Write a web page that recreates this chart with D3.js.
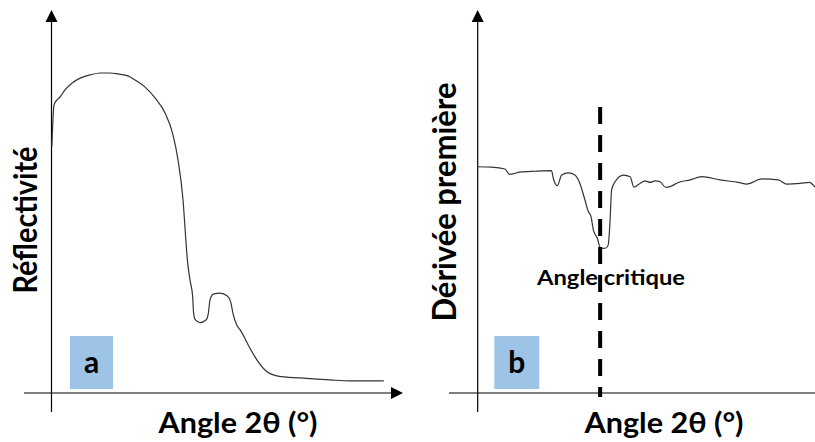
<!DOCTYPE html>
<html><head><meta charset="utf-8">
<script src="https://cdn.jsdelivr.net/npm/d3@7"></script>
<style>
html,body{margin:0;padding:0;background:#fff;}
svg{display:block;}
text{font-family:Lato,"Open Sans",sans-serif;font-weight:700;fill:#000;}
</style></head><body>
<svg id="c" width="815" height="442"></svg>
<script>
// Panel a: reflectivity vs angle (arbitrary units)
const reflAngle = [0.1,0.75,1.65,2.55,4.05,6.2,8.6,11.6,14.6,17.6,20,23,25.1,28.1,31.1,34.1,36.5,38,39.5,40.4,40.8,41.6,42.4,42.6,43.1,44.6,46.4,47.1,47.6,48.6,50.6,52.8,53.8,54.6,55.6,56.8,59.6,61.1,64.1,68,74.6,83.6,89.6,99.8];
const reflValue = [76.9,90,91.6,92.5,94.7,96.9,98.4,99.4,100,100,99.7,99.1,97.8,95.6,92.2,87.5,80.6,72.8,60.3,47,41.6,35.3,30.1,25.9,23,22,22.8,24.9,29.1,30.9,31.2,30.3,28.5,24.4,21.3,19.5,14,11.3,7.2,5.3,4.7,4.1,3.8,3.8];
// Panel b: first derivative vs angle
const derivAngle = [0,4.2,8.1,9.4,12.5,17,21.9,22.4,23.6,24.9,26.9,28.8,30.3,31.8,32.8,33.6,34.3,35.5,36.3,37.2,38,38.7,39.2,39.7,40.7,43.2,45.2,46.3,48.1,49.6,51.1,52.6,54.1,55.7,57,59.5,63,66.4,71.8,77.3,79.8,84.2,89.1,91.6,95.6,98.3,100];
const derivValue = [70.7,70.6,70,68.3,69,69.3,69.5,67.1,64.8,68.1,68.8,68.1,65.5,60.3,56.7,55.1,50.9,48.3,45.5,45.2,45.3,46.3,53,63.4,66,68.1,67.6,64.3,65.5,66.3,65.8,66.3,66,64.3,64.5,65.8,66.6,67.6,66.6,65.8,65.3,66.9,66.6,65.3,65.5,65.8,64.3];
const criticalAngle = [36.3];
const panelLetters = ["a","b"];
const yTitles = ["Réflectivité","Dérivée première"];
const xTitle = "Angle 2θ (°)";
const annotation = "Angle critique";

const svg = d3.select("#c");
const boxColor = "#9dc3e6";

function arrowHead(g, x, y, dir){
  const s = 6, L = 12;
  let pts;
  if(dir==="up") pts=[[x,y],[x-s,y+L],[x+s,y+L]];
  else pts=[[x,y],[x-L,y-s],[x-L,y+s]];
  g.append("path").attr("d", d3.line()(pts)+"Z").attr("fill","#000");
}

function panel(cfg){
  const g = svg.append("g");
  const x = d3.scaleLinear().domain([0,100]).range([cfg.x0, cfg.x1]);
  const y = d3.scaleLinear().domain([0,100]).range([393, cfg.yTop]);
  g.append("line").attr("x1",cfg.ax0).attr("x2",cfg.ax1).attr("y1",y(0)).attr("y2",y(0)).attr("stroke","#000").attr("stroke-width",1.2);
  g.append("line").attr("x1",cfg.x0).attr("x2",cfg.x0).attr("y1",412).attr("y2",14).attr("stroke","#000").attr("stroke-width",1.2);
  arrowHead(g, cfg.x0, 10, "up");
  if(cfg.xArrow) arrowHead(g, cfg.ax1+2, y(0), "right");
  g.append("rect").attr("x",cfg.box[0]).attr("y",336).attr("width",cfg.box[1]).attr("height",53).attr("fill",boxColor);
  g.append("text").attr("x",cfg.box[0]+cfg.box[1]/2).attr("y",373).attr("text-anchor","middle").style("font-size","30px").text(cfg.letter);
  g.append("text").attr("transform",`translate(${cfg.yLabX},${cfg.yLabY}) rotate(-90)`).attr("text-anchor","middle")
    .attr("textLength",cfg.yLen).attr("lengthAdjust","spacingAndGlyphs").style("font-size","32px").text(cfg.yTitle);
  g.append("text").attr("x",cfg.xLabX).attr("y",433).attr("text-anchor","middle")
    .attr("textLength",159).attr("lengthAdjust","spacingAndGlyphs").style("font-size","29px").text(xTitle);
  g.append("path").datum(cfg.xs.map((v,i)=>[v,cfg.ys[i]]))
    .attr("d", d3.line().x(d=>x(d[0])).y(d=>y(d[1])).curve(d3.curveMonotoneX))
    .attr("fill","none").attr("stroke","#333").attr("stroke-width",1.2);
  return {g,x,y};
}

panel({x0:51.5,x1:384.5,yTop:73,ax0:24,ax1:401,xArrow:true,box:[70,43],letter:panelLetters[0],
  yTitle:yTitles[0],yLen:147,yLabX:37,yLabY:220,xLabX:238,xs:reflAngle,ys:reflValue});
const pb = panel({x0:477.7,x1:815,yTop:73,ax0:449,ax1:815,xArrow:false,box:[494.3,45],letter:panelLetters[1],
  yTitle:yTitles[1],yLen:239,yLabX:456,yLabY:202,xLabX:664,xs:derivAngle,ys:derivValue});

pb.g.append("line").attr("x1",pb.x(criticalAngle[0])).attr("x2",pb.x(criticalAngle[0]))
  .attr("y1",107).attr("y2",397).attr("stroke","#000").attr("stroke-width",4).attr("stroke-dasharray","17,11");
pb.g.append("text").attr("x",611).attr("y",285).attr("text-anchor","middle")
  .attr("textLength",148).attr("lengthAdjust","spacingAndGlyphs").style("font-size","20px").text(annotation);
</script></body></html>
